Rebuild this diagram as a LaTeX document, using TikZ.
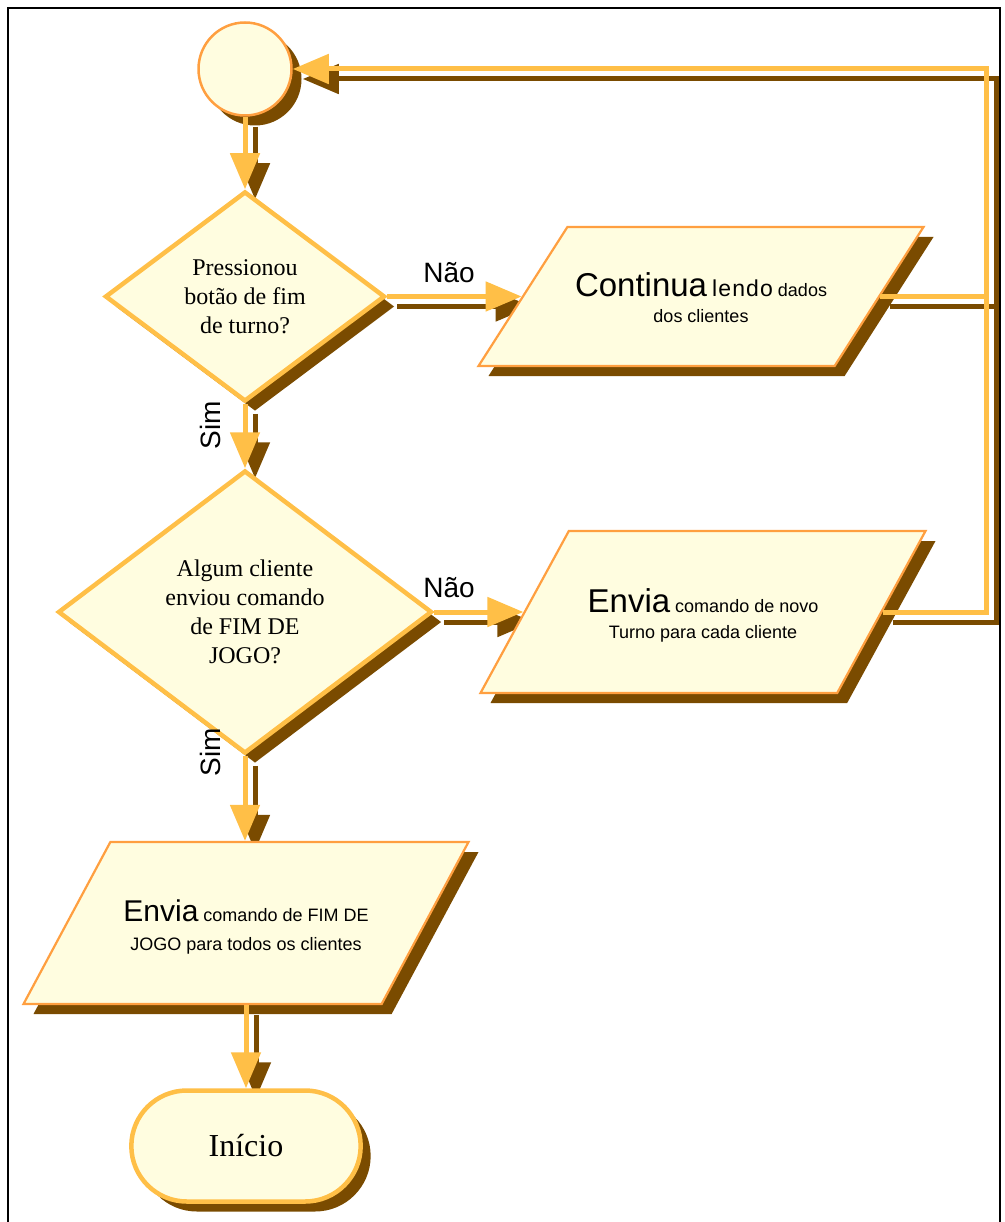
\documentclass[tikz,border=0pt]{standalone}
\usepackage{fontspec}
\setmainfont{Liberation Serif}
\setsansfont{Liberation Sans}
\usetikzlibrary{shapes.geometric,shapes.misc,shadows,arrows.meta,backgrounds}

\definecolor{boxfill}{HTML}{FFFDE0}
\definecolor{gold}{HTML}{FFBF47}
\definecolor{edgeorange}{HTML}{FF9F40}
\definecolor{shade}{HTML}{7A4B00}

\tikzset{
  dshadow/.style={drop shadow={shadow xshift=10pt, shadow yshift=-10pt, fill=shade, opacity=1}},
  startcircle/.style={circle, draw=edgeorange, line width=2.5pt, fill=boxfill,
    minimum size=93pt, inner sep=0pt, dshadow},
  decision/.style={diamond, draw=gold, line width=4.5pt, fill=boxfill, inner sep=0pt,
    align=center, font=\fontsize{24}{29}\selectfont, dshadow},
  % parallelogram; its height is fixed through the (empty) text box
  iobox/.style={trapezium, trapezium stretches body, draw=edgeorange, line width=2.2pt,
    fill=boxfill, inner sep=0pt, text height=#1/2, text depth=#1/2, dshadow},
  iotext/.style={align=center, inner sep=0pt, font=\sffamily\fontsize{18}{26}\selectfont},
  terminal/.style={rounded rectangle, draw=gold, line width=4.5pt, fill=boxfill,
    minimum width=236pt, minimum height=111pt, font=\fontsize{32}{36}\selectfont, dshadow},
  flow/.style={draw=gold, line width=5pt, -{Triangle[length=36pt,width=29pt]}},
  flowplain/.style={draw=gold, line width=5pt},
  flowshade/.style={flow, draw=shade},
  flowshadeplain/.style={flowplain, draw=shade},
  lbl/.style={font=\sffamily\fontsize{28}{32}\selectfont, inner sep=0pt},
  frameline/.style={draw=black, line width=1.2pt},
}

\newcommand{\bigword}[1]{{\fontsize{33}{26}\selectfont #1}}

\begin{document}
\begin{tikzpicture}[x=1pt,y=-1pt]
  \useasboundingbox (0,0) rectangle (1004,1222);
  \draw[frameline] (8,1222) -- (8,8) -- (1000,8) -- (1000,1222);

  % flowchart blocks
  \node[startcircle] (c) at (245,69) {};
  \node[decision, minimum width=280pt, minimum height=210pt] (d1) at (245,296.5)
    {Pressionou\\botão de fim\\de turno?};
  \node[decision, minimum width=374pt, minimum height=283pt] (d2) at (245,612)
    {Algum cliente\\enviou comando\\de FIM DE\\JOGO?};

  \node[iobox=139pt, minimum width=445pt,
        trapezium left angle=57.4, trapezium right angle=122.6] (p1) at (701,296.5) {};
  \node[iotext] (p1t) at ([yshift=-1pt]p1.center)
    {\bigword{Continua} {\fontsize{23}{26}\selectfont\addfontfeature{LetterSpace=5}lendo} dados\\dos clientes};

  \node[iobox=162pt, minimum width=445pt,
        trapezium left angle=61.4, trapezium right angle=118.6] (p2) at (703,612) {};
  \node[iotext] (p2t) at ([yshift=-3pt]p2.center)
    {\bigword{Envia} comando de novo\\Turno para cada cliente};

  \node[iobox=162pt, minimum width=445pt,
        trapezium left angle=61.8, trapezium right angle=118.2] (p3) at (246,923) {};
  \node[iotext, font=\sffamily\fontsize{18}{29}\selectfont] (p3t) at ([yshift=-4pt]p3.center)
    {{\fontsize{30}{29}\selectfont Envia} comando de FIM DE\\JOGO para todos os clientes};

  \node[terminal] (t) at (246,1146) {Início};

  % branch labels
  \node[lbl, anchor=base] (n1) at (449,283) {Não};
  \node[lbl, anchor=base] (n2) at (449,597) {Não};
  \node[lbl, rotate=90] (s1) at (210,425) {Sim};
  \node[lbl, rotate=90] (s2) at (210,752) {Sim};

  \coordinate (loop) at (986,69);

  % connector shadows, beneath everything
  \begin{pgfonlayer}{background}
    \begin{scope}[transform canvas={xshift=10pt,yshift=-10pt}]
      \draw[flowshade] (c.south) -- (d1.north);
      \draw[flowshade] (d1.south) -- (d2.north);
      \draw[flowshade] (d1.east) -- (p1.180);
      \draw[flowshade] (d2.east) -- (p2.180);
      \draw[flowshade] (d2.south) -- (d2.south |- p3.north);
      \draw[flowshade] (p3.south -| t.north) -- (t.north);
      \draw[flowshadeplain] (p1.0) -- (p1.0 -| loop);
      \draw[flowshade] (p2.0) -| (loop) -- (c.east);
    \end{scope}
  \end{pgfonlayer}

  % connectors
  \draw[flow] (c.south) -- (d1.north);
  \draw[flow] (d1.south) -- (d2.north);
  \draw[flow] (d1.east) -- (p1.180);
  \draw[flow] (d2.east) -- (p2.180);
  \draw[flow] (d2.south) -- (d2.south |- p3.north);
  \draw[flow] (p3.south -| t.north) -- (t.north);
  \draw[flowplain] (p1.0) -- (p1.0 -| loop);
  \draw[flow] (p2.0) -| (loop) -- (c.east);
\end{tikzpicture}
\end{document}
